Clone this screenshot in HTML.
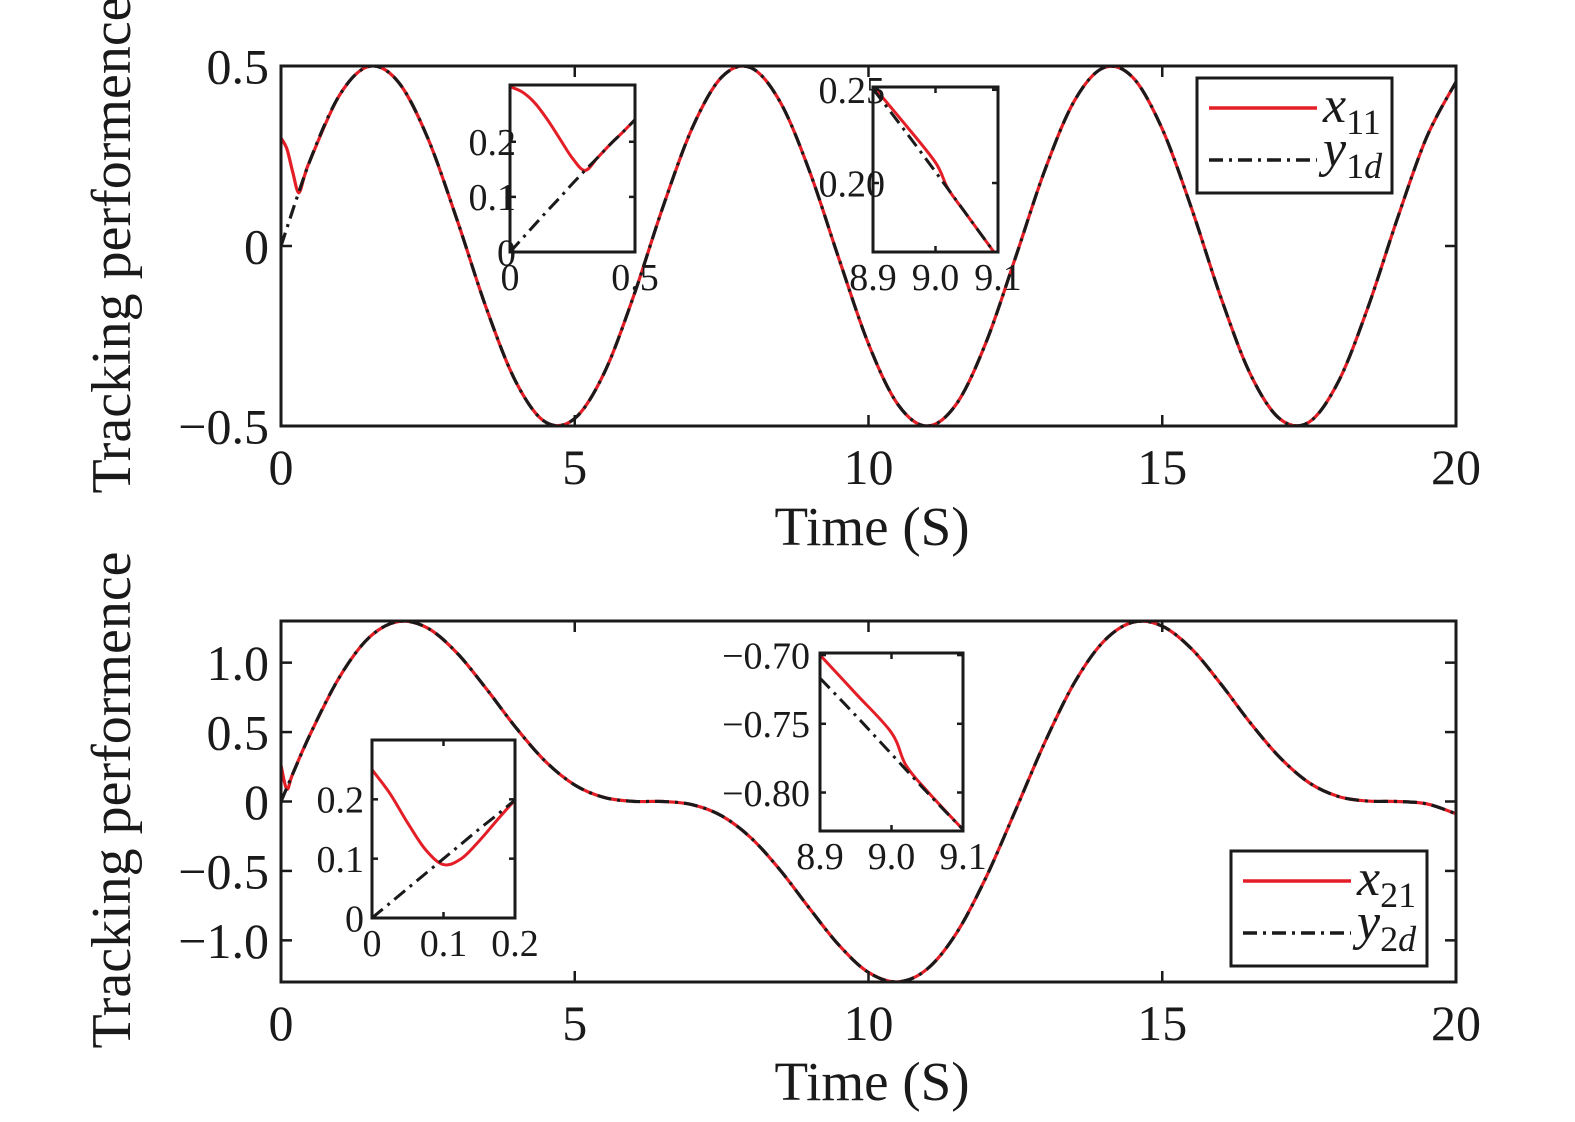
<!DOCTYPE html>
<html><head><meta charset="utf-8"><style>
html,body{margin:0;padding:0;background:#fff;}
svg{display:block;font-family:"Liberation Serif",serif;}
</style></head><body>
<svg id="fig" width="1575" height="1122" viewBox="0 0 1575 1122" xmlns="http://www.w3.org/2000/svg"></svg>
<script>
// ---- data ----
const tMain = [0,0.5,1,1.5,2,2.5,3,3.5,4,4.5,5,5.5,6,6.5,7,7.5,8,8.5,9,9.5,10,10.5,11,11.5,12,12.5,13,13.5,14,14.5,15,15.5,16,16.5,17,17.5,18,18.5,19,19.5,20];
const y1d = [0,.24,.42,.499,.455,.299,.071,-.175,-.378,-.489,-.479,-.353,-.14,.108,.328,.469,.495,.399,.206,-.037,-.272,-.44,-.5,-.438,-.268,-.033,.21,.402,.495,.468,.325,.104,-.144,-.356,-.48,-.489,-.376,-.171,.075,.302,.456];
const x11EarlyT = [0,0.1,0.2,0.3,0.4,0.5];
const x11EarlyV = [0.3,0.27,0.205,0.148,0.195,0.24];
const y2d = [0,.487,.899,1.181,1.296,1.248,1.068,.809,.531,.289,.119,.029,.001,0,-.023,-.103,-.262,-.496,-.772,-1.036,-1.231,-1.299,-1.206,-.946,-.547,-.066,.425,.852,1.152,1.291,1.263,1.099,.845,.566,.318,.135,.036,.003,0,-.017,-.088];
const x21EarlyT = [0,0.1,0.2,0.5];
const x21EarlyV = [0.26,0.09,0.2,0.487];

const inA_t = [0,0.05,0.1,0.15,0.2,0.25,0.3,0.35,0.4,0.45,0.5];
const inA_y = [0,.025,.05,.075,.099,.124,.148,.171,.195,.217,.240];
const inA_x = [.3,.29,.27,.24,.205,.17,.148,.171,.195,.217,.240];
const inB_t = [8.9,8.95,9.0,9.05,9.1];
const inB_y = [.2505,.2285,.206,.183,.160];
const inB_xt = [8.9,8.95,9.0,9.02,9.05,9.1];
const inB_x = [.252,.232,.211,.197,.183,.160];
const inC_t = [0,.025,.05,.075,.1,.125,.15,.175,.2];
const inC_y = [0,.025,.05,.075,.1,.125,.15,.174,.199];
const inC_x = [.25,.21,.16,.115,.09,.1,.13,.165,.199];
const inD_t = [8.9,8.95,9.0,9.05,9.1];
const inD_y = [-.7168,-.744,-.772,-.800,-.827];
const inD_xt = [8.9,8.95,9.0,9.02,9.05,9.1];
const inD_x = [-.700,-.728,-.7565,-.780,-.799,-.827];

const ticksMainX = [0,5,10,15,20];
const labelsMainX = ["0","5","10","15","20"];
const ticksTopY = [-0.5,0,0.5];
const labelsTopY = ["\u22120.5","0","0.5"];
const ticksBotY = [-1,-0.5,0,0.5,1];
const labelsBotY = ["\u22121.0","\u22120.5","0","0.5","1.0"];

// ---- drawing ----
const NS="http://www.w3.org/2000/svg";
const svg=document.getElementById('fig');
function el(tag,attrs,parent){const e=document.createElementNS(NS,tag);for(const k in attrs)e.setAttribute(k,attrs[k]);(parent||svg).appendChild(e);return e;}
function scale(d0,d1,r0,r1){return v=>r0+(v-d0)/(d1-d0)*(r1-r0);}
function smoothPath(xs,ys){
  let d=`M${xs[0].toFixed(2)},${ys[0].toFixed(2)}`;
  for(let i=0;i<xs.length-1;i++){
    const i0=Math.max(0,i-1),i3=Math.min(xs.length-1,i+2);
    const c1x=xs[i]+(xs[i+1]-xs[i0])/6,c1y=ys[i]+(ys[i+1]-ys[i0])/6;
    const c2x=xs[i+1]-(xs[i3]-xs[i])/6,c2y=ys[i+1]-(ys[i3]-ys[i])/6;
    d+=` C${c1x.toFixed(2)},${c1y.toFixed(2)} ${c2x.toFixed(2)},${c2y.toFixed(2)} ${xs[i+1].toFixed(2)},${ys[i+1].toFixed(2)}`;
  }
  return d;
}
function axes(name,box,xr,yr,xt,xl,yt,yl,fs,tl,xlOff,ylOff){
  const g=el('g',{});
  
  
  const sx=scale(xr[0],xr[1],box.x0,box.x1), sy=scale(yr[0],yr[1],box.y1,box.y0);
  el('rect',{x:box.x0,y:box.y0,width:box.x1-box.x0,height:box.y1-box.y0,fill:'#fff'},g);
  return {g,sx,sy,finish(){
    const f=el('g',{},svg);
    
    
    el('rect',{x:box.x0,y:box.y0,width:box.x1-box.x0,height:box.y1-box.y0,fill:'none',stroke:'#1a1a1a','stroke-width':3},f);
    xt.forEach((v,i)=>{const x=sx(v);
      el('line',{x1:x,y1:box.y1,x2:x,y2:box.y1-tl,stroke:'#1a1a1a','stroke-width':2.5},f);
      el('line',{x1:x,y1:box.y0,x2:x,y2:box.y0+tl,stroke:'#1a1a1a','stroke-width':2.5},f);
      const t=el('text',{x:x,y:box.y1+xlOff,'font-size':fs,'text-anchor':'middle',fill:'#1a1a1a'},f);t.textContent=xl[i];
      
      
    });
    yt.forEach((v,i)=>{const y=sy(v);
      el('line',{x1:box.x0,y1:y,x2:box.x0+tl,y2:y,stroke:'#1a1a1a','stroke-width':2.5},f);
      el('line',{x1:box.x1,y1:y,x2:box.x1-tl,y2:y,stroke:'#1a1a1a','stroke-width':2.5},f);
      const t=el('text',{x:box.x0-ylOff,y:y+fs*0.35,'font-size':fs,'text-anchor':'end',fill:'#1a1a1a'},f);t.textContent=yl[i];
      
      
    });
  }};
}
function series(ax,ts,vs,kind,name,w){
  const xs=ts.map(ax.sx),ys=vs.map(ax.sy);
  const p=el('path',{d:smoothPath(xs,ys),fill:'none',stroke:kind==='red'?'#e41e26':'#1a1a1a','stroke-width':w||3.2,'stroke-linejoin':'round'},ax.g);
  if(kind!=='red')p.setAttribute('stroke-dasharray','14 6 3 6');
  
  
}
function concatEarly(et,ev,t,v){const T=et.slice(),V=ev.slice();const last=et[et.length-1];t.forEach((x,i)=>{if(x>last){T.push(x);V.push(v[i]);}});return [T,V];}
function clip(ax,id,box){
  const d=el('defs',{});const c=el('clipPath',{id:id},d);el('rect',{x:box.x0,y:box.y0,width:box.x1-box.x0,height:box.y1-box.y0},c);
  ax.g.setAttribute('clip-path',`url(#${id})`);
}

// top main
const topBox={x0:281,x1:1456,y0:66,y1:426};
const A=axes('top-plot',topBox,[0,20],[-0.5,0.5],ticksMainX,labelsMainX,ticksTopY,labelsTopY,50,11,58,12);
clip(A,'c1',topBox);
const [x11T,x11V]=concatEarly(x11EarlyT,x11EarlyV,tMain,y1d);
series(A,x11T,x11V,'red','x11-line');
series(A,tMain,y1d,'black','y1d-line');
A.finish();

// bottom main
const botBox={x0:281,x1:1456,y0:621,y1:982};
const B=axes('bottom-plot',botBox,[0,20],[-1.3,1.3],ticksMainX,labelsMainX,ticksBotY,labelsBotY,50,11,58,12);
clip(B,'c2',botBox);
const [x21T,x21V]=concatEarly(x21EarlyT,x21EarlyV,tMain,y2d);
series(B,x21T,x21V,'red','x21-line');
series(B,tMain,y2d,'black','y2d-line');
B.finish();

// insets
const iaBox={x0:510,x1:635,y0:85,y1:252};
const IA=axes('inset-top-start',iaBox,[0,0.5],[0,0.303],[0,0.5],["0","0.5"],[0,0.1,0.2],["0","0.1","0.2"],38,6,38,-6);
clip(IA,'c3',iaBox);
series(IA,inA_t,inA_x,'red','x11-zoom-start',3);
series(IA,inA_t,inA_y,'black','y1d-zoom-start',3);
IA.finish();

const ibBox={x0:873,x1:998,y0:87,y1:252};
const IB=axes('inset-top-mid',ibBox,[8.9,9.1],[0.163,0.2515],[8.9,9.0,9.1],["8.9","9.0","9.1"],[0.2,0.25],["0.20","0.25"],38,6,38,-12);
clip(IB,'c4',ibBox);
series(IB,inB_xt,inB_x,'red','x11-zoom-mid',3);
series(IB,inB_t,inB_y,'black','y1d-zoom-mid',3);
IB.finish();

const icBox={x0:372,x1:515,y0:740,y1:918};
const IC=axes('inset-bottom-start',icBox,[0,0.2],[0,0.3],[0,0.1,0.2],["0","0.1","0.2"],[0,0.1,0.2],["0","0.1","0.2"],38,6,38,8);
clip(IC,'c5',icBox);
series(IC,inC_t,inC_x,'red','x21-zoom-start',3);
series(IC,inC_t,inC_y,'black','y2d-zoom-start',3);
IC.finish();

const idBox={x0:820,x1:963,y0:653,y1:831};
const ID=axes('inset-bottom-mid',idBox,[8.9,9.1],[-0.828,-0.6985],[8.9,9.0,9.1],["8.9","9.0","9.1"],[-0.8,-0.75,-0.7],["\u22120.80","\u22120.75","\u22120.70"],38,6,38,10);
clip(ID,'c6',idBox);
series(ID,inD_xt,inD_x,'red','x21-zoom-mid',3);
series(ID,inD_t,inD_y,'black','y2d-zoom-mid',3);
ID.finish();

// legends
function legend(name,x,y,w,h,n){
  const g=el('g',{});
  
  
  el('rect',{x:x,y:y,width:w,height:h,fill:'#fff',stroke:'#1a1a1a','stroke-width':3},g);
  el('line',{x1:x+12,y1:y+30,x2:x+120,y2:y+30,stroke:'#e41e26','stroke-width':3.5},g);
  el('line',{x1:x+12,y1:y+82,x2:x+120,y2:y+82,stroke:'#1a1a1a','stroke-width':3.5,'stroke-dasharray':'14 6 3 6'},g);
  const t1=el('text',{x:x+126,y:y+44,'font-size':52,fill:'#1a1a1a'},g);
  t1.innerHTML=`<tspan font-style="italic">x</tspan><tspan font-size="36" dy="12">${n}1</tspan>`;
  
  
  const t2=el('text',{x:x+126,y:y+88,'font-size':52,fill:'#1a1a1a'},g);
  t2.innerHTML=`<tspan font-style="italic">y</tspan><tspan font-size="36" dy="12">${n}</tspan><tspan font-size="36" font-style="italic">d</tspan>`;
  
  
}
legend('legend-top',1197,78,195,115,'1');
legend('legend-bottom',1231,851,196,115,'2');

// axis titles
function label(name,txt,x,y,rot,fs){
  const t=el('text',{x:x,y:y,'font-size':fs,'text-anchor':'middle',fill:'#1a1a1a'});
  if(rot)t.setAttribute('transform',`rotate(-90 ${x} ${y})`);
  t.textContent=txt;
  
  
}
label('x-axis-title-top','Time (S)',872,545,false,55);
label('x-axis-title-bottom','Time (S)',872,1100,false,55);
label('y-axis-title-top','Tracking performence',130,245,true,56);
label('y-axis-title-bottom','Tracking performence',130,800,true,56);
</script>
</body></html>
